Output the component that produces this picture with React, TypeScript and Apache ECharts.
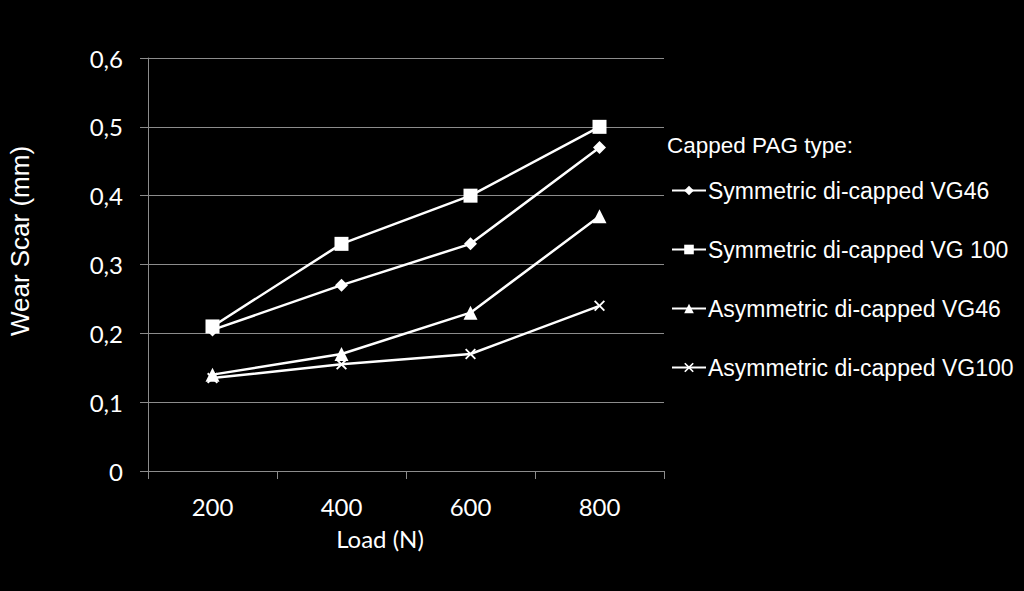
import React, { useEffect, useRef } from "react";
import * as echarts from "echarts";

const loads = ["200", "400", "600", "800"];
const symVG46 = [0.205, 0.27, 0.33, 0.47];
const symVG100 = [0.21, 0.33, 0.4, 0.5];
const asymVG46 = [0.14, 0.17, 0.23, 0.37];
const asymVG100 = [0.135, 0.155, 0.17, 0.24];
const seriesNames = [
  "Symmetric di-capped VG46",
  "Symmetric di-capped VG 100",
  "Asymmetric di-capped VG46",
  "Asymmetric di-capped VG100",
];
const yTicks = { min: 0, max: 0.6, interval: 0.1 };

const CROSS =
  "path://M0,1.2L1.2,0L5,3.8L8.8,0L10,1.2L6.2,5L10,8.8L8.8,10L5,6.2L1.2,10L0,8.8L3.8,5Z";

export default function App() {
  const ref = useRef<HTMLDivElement>(null);
  useEffect(() => {
    if (!ref.current) return;
    const chart = echarts.init(ref.current, undefined, { renderer: "svg" });
    const mk = (name: string, data: number[], symbol: string, size: number) => ({
      name,
      type: "line",
      data,
      symbol,
      symbolSize: size,
      showSymbol: true,
      lineStyle: { color: "#ffffff", width: 2.5 },
      itemStyle: { color: "#ffffff", borderColor: "#ffffff", borderWidth: 0 },
      emphasis: { disabled: true },
    });
    chart.setOption({
      animation: false,
      backgroundColor: "#000000",
      textStyle: { fontFamily: "Liberation Sans" },
      grid: { left: 148, right: 360, top: 58, bottom: 120, containLabel: false, outerBoundsMode: "none" },
      xAxis: {
        type: "category",
        data: loads,
        boundaryGap: true,
        axisLine: { lineStyle: { color: "#8c8c8c", width: 1 } },
        axisTick: { show: true, alignWithLabel: false, length: 8, lineStyle: { color: "#8c8c8c" } },
        axisLabel: { color: "#ffffff", fontSize: 24, fontFamily: "Lato", margin: 23 },
        splitLine: { show: false },
      },
      yAxis: {
        type: "value",
        min: yTicks.min,
        max: yTicks.max,
        interval: yTicks.interval,
        axisLine: { show: true, lineStyle: { color: "#8c8c8c", width: 1 } },
        axisTick: { show: true, length: 8, lineStyle: { color: "#8c8c8c" } },
        axisLabel: {
          color: "#ffffff",
          fontSize: 24,
          fontFamily: "Lato",
          margin: 25,
          formatter: (v: number) => String(Math.round(v * 10) / 10).replace(".", ","),
        },
        splitLine: { show: true, lineStyle: { color: "#8c8c8c", width: 1 } },
      },
      legend: {
        orient: "vertical",
        left: 666,
        top: 174,
        itemWidth: 34,
        itemHeight: 12,
        itemGap: 36,
        data: seriesNames,
        textStyle: { color: "#ffffff", fontSize: 23, fontFamily: "Liberation Sans", padding: [0, 0, 0, -3] },
        selectedMode: false,
      },
      graphic: [
        {
          type: "text",
          left: 667,
          top: 134,
          style: { text: "Capped PAG type:", fill: "#ffffff", fontSize: 22.5, fontFamily: "Liberation Sans" },
        },
        {
          type: "text",
          x: 20,
          y: 241,
          rotation: Math.PI / 2,
          style: {
            text: "Wear Scar (mm)",
            fill: "#ffffff",
            fontSize: 26,
            fontFamily: "Liberation Sans",
            align: "center",
            verticalAlign: "middle",
          },
        },
        {
          type: "text",
          x: 380,
          y: 538,
          style: {
            text: "Load (N)",
            fill: "#ffffff",
            fontSize: 24,
            fontFamily: "Lato",
            align: "center",
            verticalAlign: "middle",
          },
        },
      ],
      series: [
        mk(seriesNames[0], symVG46, "diamond", 13),
        mk(seriesNames[1], symVG100, "rect", 14),
        mk(seriesNames[2], asymVG46, "triangle", 14),
        mk(seriesNames[3], asymVG100, CROSS, 11),
      ],
    });
    return () => chart.dispose();
  }, []);
  return (
    <div
      ref={ref}
      style={{ position: "fixed", left: 0, top: 0, width: 1024, height: 591, background: "#000" }}
    />
  );
}
